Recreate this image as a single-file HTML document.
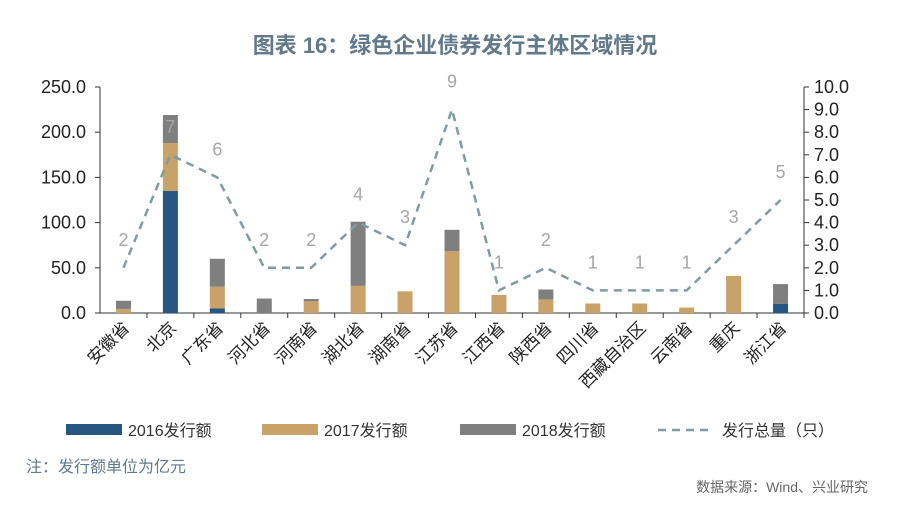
<!DOCTYPE html>
<html><head><meta charset="utf-8"><style>
body{margin:0;background:#fff;width:900px;height:506px;overflow:hidden;font-family:"Liberation Sans","Noto Sans CJK SC",sans-serif}
</style></head><body>
<svg id="chart" width="900" height="506" xmlns="http://www.w3.org/2000/svg" font-family="Liberation Sans, Noto Sans CJK SC, sans-serif">
<text x="455" y="53" text-anchor="middle" font-size="22" font-weight="bold" fill="#62798a">图表 16：绿色企业债券发行主体区域情况</text>
<g id="plot"></g>
<g>
<rect x="66" y="424" width="56" height="11" fill="#275683"/>
<text x="128" y="436" font-size="16" fill="#333">2016发行额</text>
<rect x="262" y="424" width="56" height="11" fill="#c9a269"/>
<text x="324" y="436" font-size="16" fill="#333">2017发行额</text>
<rect x="460" y="424" width="56" height="11" fill="#7f7f7f"/>
<text x="522" y="436" font-size="16" fill="#333">2018发行额</text>
<line x1="658" y1="430" x2="714" y2="430" stroke="#7f9ca3" stroke-width="2.5" stroke-dasharray="8,6"/>
<text x="722" y="436" font-size="16" fill="#333">发行总量（只）</text>
</g>
<text x="26" y="472" font-size="16" fill="#5f7a8c">注：发行额单位为亿元</text>
<text x="868" y="492" text-anchor="end" font-size="14" fill="#666">数据来源：Wind、兴业研究</text>
</svg>
<script>
const categories=["安徽省","北京","广东省","河北省","河南省","湖北省","湖南省","江苏省","江西省","陕西省","四川省","西藏自治区","云南省","重庆","浙江省"];
const v2016=[0,135,5,0,0,0,0,0,0,0,0,0,0,0,10];
const v2017=[4.5,53,24,0,13,30,24,68.5,20,15,10.5,10.5,6,41,0];
const v2018=[9,31,31,16,2.5,71,0,23.5,0,11,0,0,0,0,22];
const totals=[2,7,6,2,2,4,3,9,1,2,1,1,1,3,5];
const leftTicks=["0.0","50.0","100.0","150.0","200.0","250.0"];
const rightTicks=["0.0","1.0","2.0","3.0","4.0","5.0","6.0","7.0","8.0","9.0","10.0"];
const NS="http://www.w3.org/2000/svg";
const g=document.getElementById("plot");
const L=100,R=804,T=87,B=313;
const band=(R-L)/categories.length;
const xc=i=>L+band*(i+0.5);
const yl=v=>B-(v/250)*(B-T);
const yr=v=>B-(v/10)*(B-T);
function mk(tag,attrs){const e=document.createElementNS(NS,tag);for(const k in attrs)e.setAttribute(k,attrs[k]);g.appendChild(e);return e;}
let ax=mk("line",{x1:L,y1:T,x2:L,y2:B,stroke:"#333","stroke-width":1});


ax=mk("line",{x1:R,y1:T,x2:R,y2:B,stroke:"#333","stroke-width":1});


ax=mk("line",{x1:L,y1:B,x2:R,y2:B,stroke:"#333","stroke-width":1});


leftTicks.forEach((t,i)=>{const v=parseFloat(t);const y=yl(v);
 const l=mk("line",{x1:L-5,y1:y,x2:L,y2:y,stroke:"#333"});
 
 
 const tx=mk("text",{x:L-14,y:y+6,"text-anchor":"end","font-size":18,fill:"#222"});tx.textContent=t;
 
 });
rightTicks.forEach((t,i)=>{const v=parseFloat(t);const y=yr(v);
 const l=mk("line",{x1:R,y1:y,x2:R+5,y2:y,stroke:"#333"});
 
 
 const tx=mk("text",{x:R+10,y:y+6,"font-size":18,fill:"#222"});tx.textContent=t;
 
 });
categories.forEach((c,i)=>{
 const tk=mk("line",{x1:L+band*(i+1),y1:B,x2:L+band*(i+1),y2:B+5,stroke:"#333"});
 
 
 const x=xc(i)+7,y=B+16;
 const tx=mk("text",{x:x,y:y,"text-anchor":"end","font-size":17,fill:"#222",transform:`rotate(-45 ${x} ${y})`});tx.textContent=c;
 
 
 const w=15;let base=0;
 [[v2016,"#275683","2016"],[v2017,"#c9a269","2017"],[v2018,"#7f7f7f","2018"]].forEach(([arr,col,yr_])=>{
  const v=arr[i];if(v<=0)return;
  const r=mk("rect",{x:xc(i)-w/2,y:yl(base+v),width:w,height:yl(base)-yl(base+v),fill:col});
  
  
  base+=v;});
});
const pts=totals.map((v,i)=>xc(i)+","+yr(v)).join(" ");
const pl=mk("polyline",{points:pts,fill:"none",stroke:"#7f9ca3","stroke-width":2.5,"stroke-dasharray":"8,6"});


totals.forEach((v,i)=>{const tx=mk("text",{x:xc(i),y:yr(v)-22,"text-anchor":"middle","font-size":18,fill:"#a6a6a6"});tx.textContent=v;
 
 });
</script>
</body></html>
